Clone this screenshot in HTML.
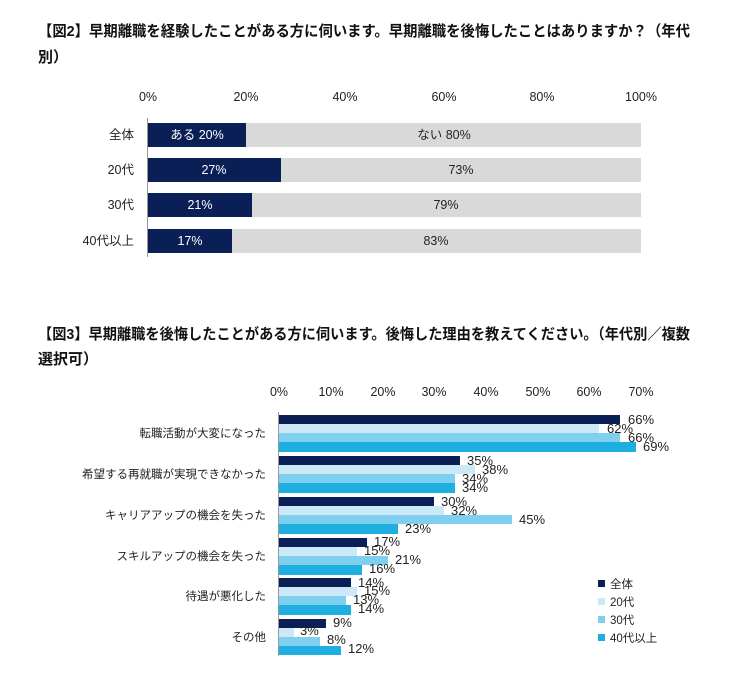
<!DOCTYPE html>
<html><head><meta charset="utf-8"><style>
body{margin:0;background:#fff}
svg{display:block;font-family:"Liberation Sans","Noto Sans CJK JP",sans-serif}
.t{font-weight:bold;font-size:15px;fill:#111}
.a{font-size:12.5px;fill:#222}
.c{font-size:11.5px;fill:#222}
.w{font-size:12.5px;fill:#fff}
</style></head><body>
<svg width="740" height="682" viewBox="0 0 740 682">
<text class="t" x="38" y="36" textLength="652" lengthAdjust="spacingAndGlyphs">【図2】早期離職を経験したことがある方に伺います。早期離職を後悔したことはありますか？（年代</text>
<text class="t" x="38" y="62">別）</text>
<g class="a" text-anchor="middle">
<text x="148" y="101">0%</text><text x="246" y="101">20%</text><text x="345" y="101">40%</text><text x="444" y="101">60%</text><text x="542" y="101">80%</text><text x="641" y="101">100%</text>
</g>
<line x1="147.5" y1="118" x2="147.5" y2="257" stroke="#999"/>
<g>
<rect x="148" y="123" width="493" height="24" fill="#d9d9d9"/><rect x="148" y="123" width="98" height="24" fill="#0a1f55"/>
<rect x="148" y="158" width="493" height="24" fill="#d9d9d9"/><rect x="148" y="158" width="133" height="24" fill="#0a1f55"/>
<rect x="148" y="193" width="493" height="24" fill="#d9d9d9"/><rect x="148" y="193" width="104" height="24" fill="#0a1f55"/>
<rect x="148" y="229" width="493" height="24" fill="#d9d9d9"/><rect x="148" y="229" width="84" height="24" fill="#0a1f55"/>
</g>
<g class="a" text-anchor="end">
<text x="134" y="139">全体</text><text x="134" y="174">20代</text><text x="134" y="209">30代</text><text x="134" y="245">40代以上</text>
</g>
<g class="w" text-anchor="middle">
<text x="197" y="139">ある 20%</text><text x="214" y="174">27%</text><text x="200" y="209">21%</text><text x="190" y="245">17%</text>
</g>
<g class="a" text-anchor="middle">
<text x="444" y="139">ない 80%</text><text x="461" y="174">73%</text><text x="446" y="209">79%</text><text x="436" y="245">83%</text>
</g>

<text class="t" x="38" y="339" textLength="652" lengthAdjust="spacingAndGlyphs">【図3】早期離職を後悔したことがある方に伺います。後悔した理由を教えてください。（年代別／複数</text>
<text class="t" x="38" y="364">選択可）</text>
<g class="a" text-anchor="middle">
<text x="279" y="396">0%</text><text x="331" y="396">10%</text><text x="383" y="396">20%</text><text x="434" y="396">30%</text><text x="486" y="396">40%</text><text x="538" y="396">50%</text><text x="589" y="396">60%</text><text x="641" y="396">70%</text>
</g>
<line x1="278.5" y1="412" x2="278.5" y2="656" stroke="#999"/>
<g id="bars"></g>
<g class="c" text-anchor="end">
<text x="266" y="437">転職活動が大変になった</text>
<text x="266" y="478">希望する再就職が実現できなかった</text>
<text x="266" y="519">キャリアアップの機会を失った</text>
<text x="266" y="560">スキルアップの機会を失った</text>
<text x="266" y="600">待遇が悪化した</text>
<text x="266" y="641">その他</text>
</g>
<g class="c">
<rect x="598" y="580" width="7" height="7" fill="#0a1f55"/><text x="610" y="588">全体</text>
<rect x="598" y="598" width="7" height="7" fill="#cde9f7"/><text x="610" y="606">20代</text>
<rect x="598" y="616" width="7" height="7" fill="#7fcfee"/><text x="610" y="624">30代</text>
<rect x="598" y="634" width="7" height="7" fill="#1eaee0"/><text x="610" y="642">40代以上</text>
</g>
<g fill="#0a1f55"><rect x="279" y="415" width="341" height="9"/><rect x="279" y="456" width="181" height="9"/><rect x="279" y="497" width="155" height="9"/><rect x="279" y="538" width="88" height="9"/><rect x="279" y="578" width="72" height="9"/><rect x="279" y="619" width="47" height="9"/></g>
<g fill="#cde9f7"><rect x="279" y="424" width="320" height="9"/><rect x="279" y="465" width="196" height="9"/><rect x="279" y="506" width="165" height="9"/><rect x="279" y="547" width="78" height="9"/><rect x="279" y="587" width="78" height="9"/><rect x="279" y="628" width="15" height="9"/></g>
<g fill="#7fcfee"><rect x="279" y="433" width="341" height="9"/><rect x="279" y="474" width="176" height="9"/><rect x="279" y="515" width="233" height="9"/><rect x="279" y="556" width="109" height="9"/><rect x="279" y="596" width="67" height="9"/><rect x="279" y="637" width="41" height="9"/></g>
<g fill="#1eaee0"><rect x="279" y="442" width="357" height="10"/><rect x="279" y="483" width="176" height="10"/><rect x="279" y="524" width="119" height="10"/><rect x="279" y="565" width="83" height="10"/><rect x="279" y="605" width="72" height="10"/><rect x="279" y="646" width="62" height="9"/></g>
<g font-size="13" fill="#222">
<text x="628" y="424">66%</text><text x="607" y="433">62%</text><text x="628" y="442">66%</text><text x="643" y="451">69%</text>
<text x="467" y="465">35%</text><text x="482" y="474">38%</text><text x="462" y="483">34%</text><text x="462" y="492">34%</text>
<text x="441" y="506">30%</text><text x="451" y="515">32%</text><text x="519" y="524">45%</text><text x="405" y="533">23%</text>
<text x="374" y="546">17%</text><text x="364" y="555">15%</text><text x="395" y="564">21%</text><text x="369" y="573">16%</text>
<text x="358" y="587">14%</text><text x="364" y="595">15%</text><text x="353" y="604">13%</text><text x="358" y="613">14%</text>
<text x="333" y="627">9%</text><text x="300" y="635">3%</text><text x="327" y="644">8%</text><text x="348" y="653">12%</text>
</g>
</svg>
</body></html>
